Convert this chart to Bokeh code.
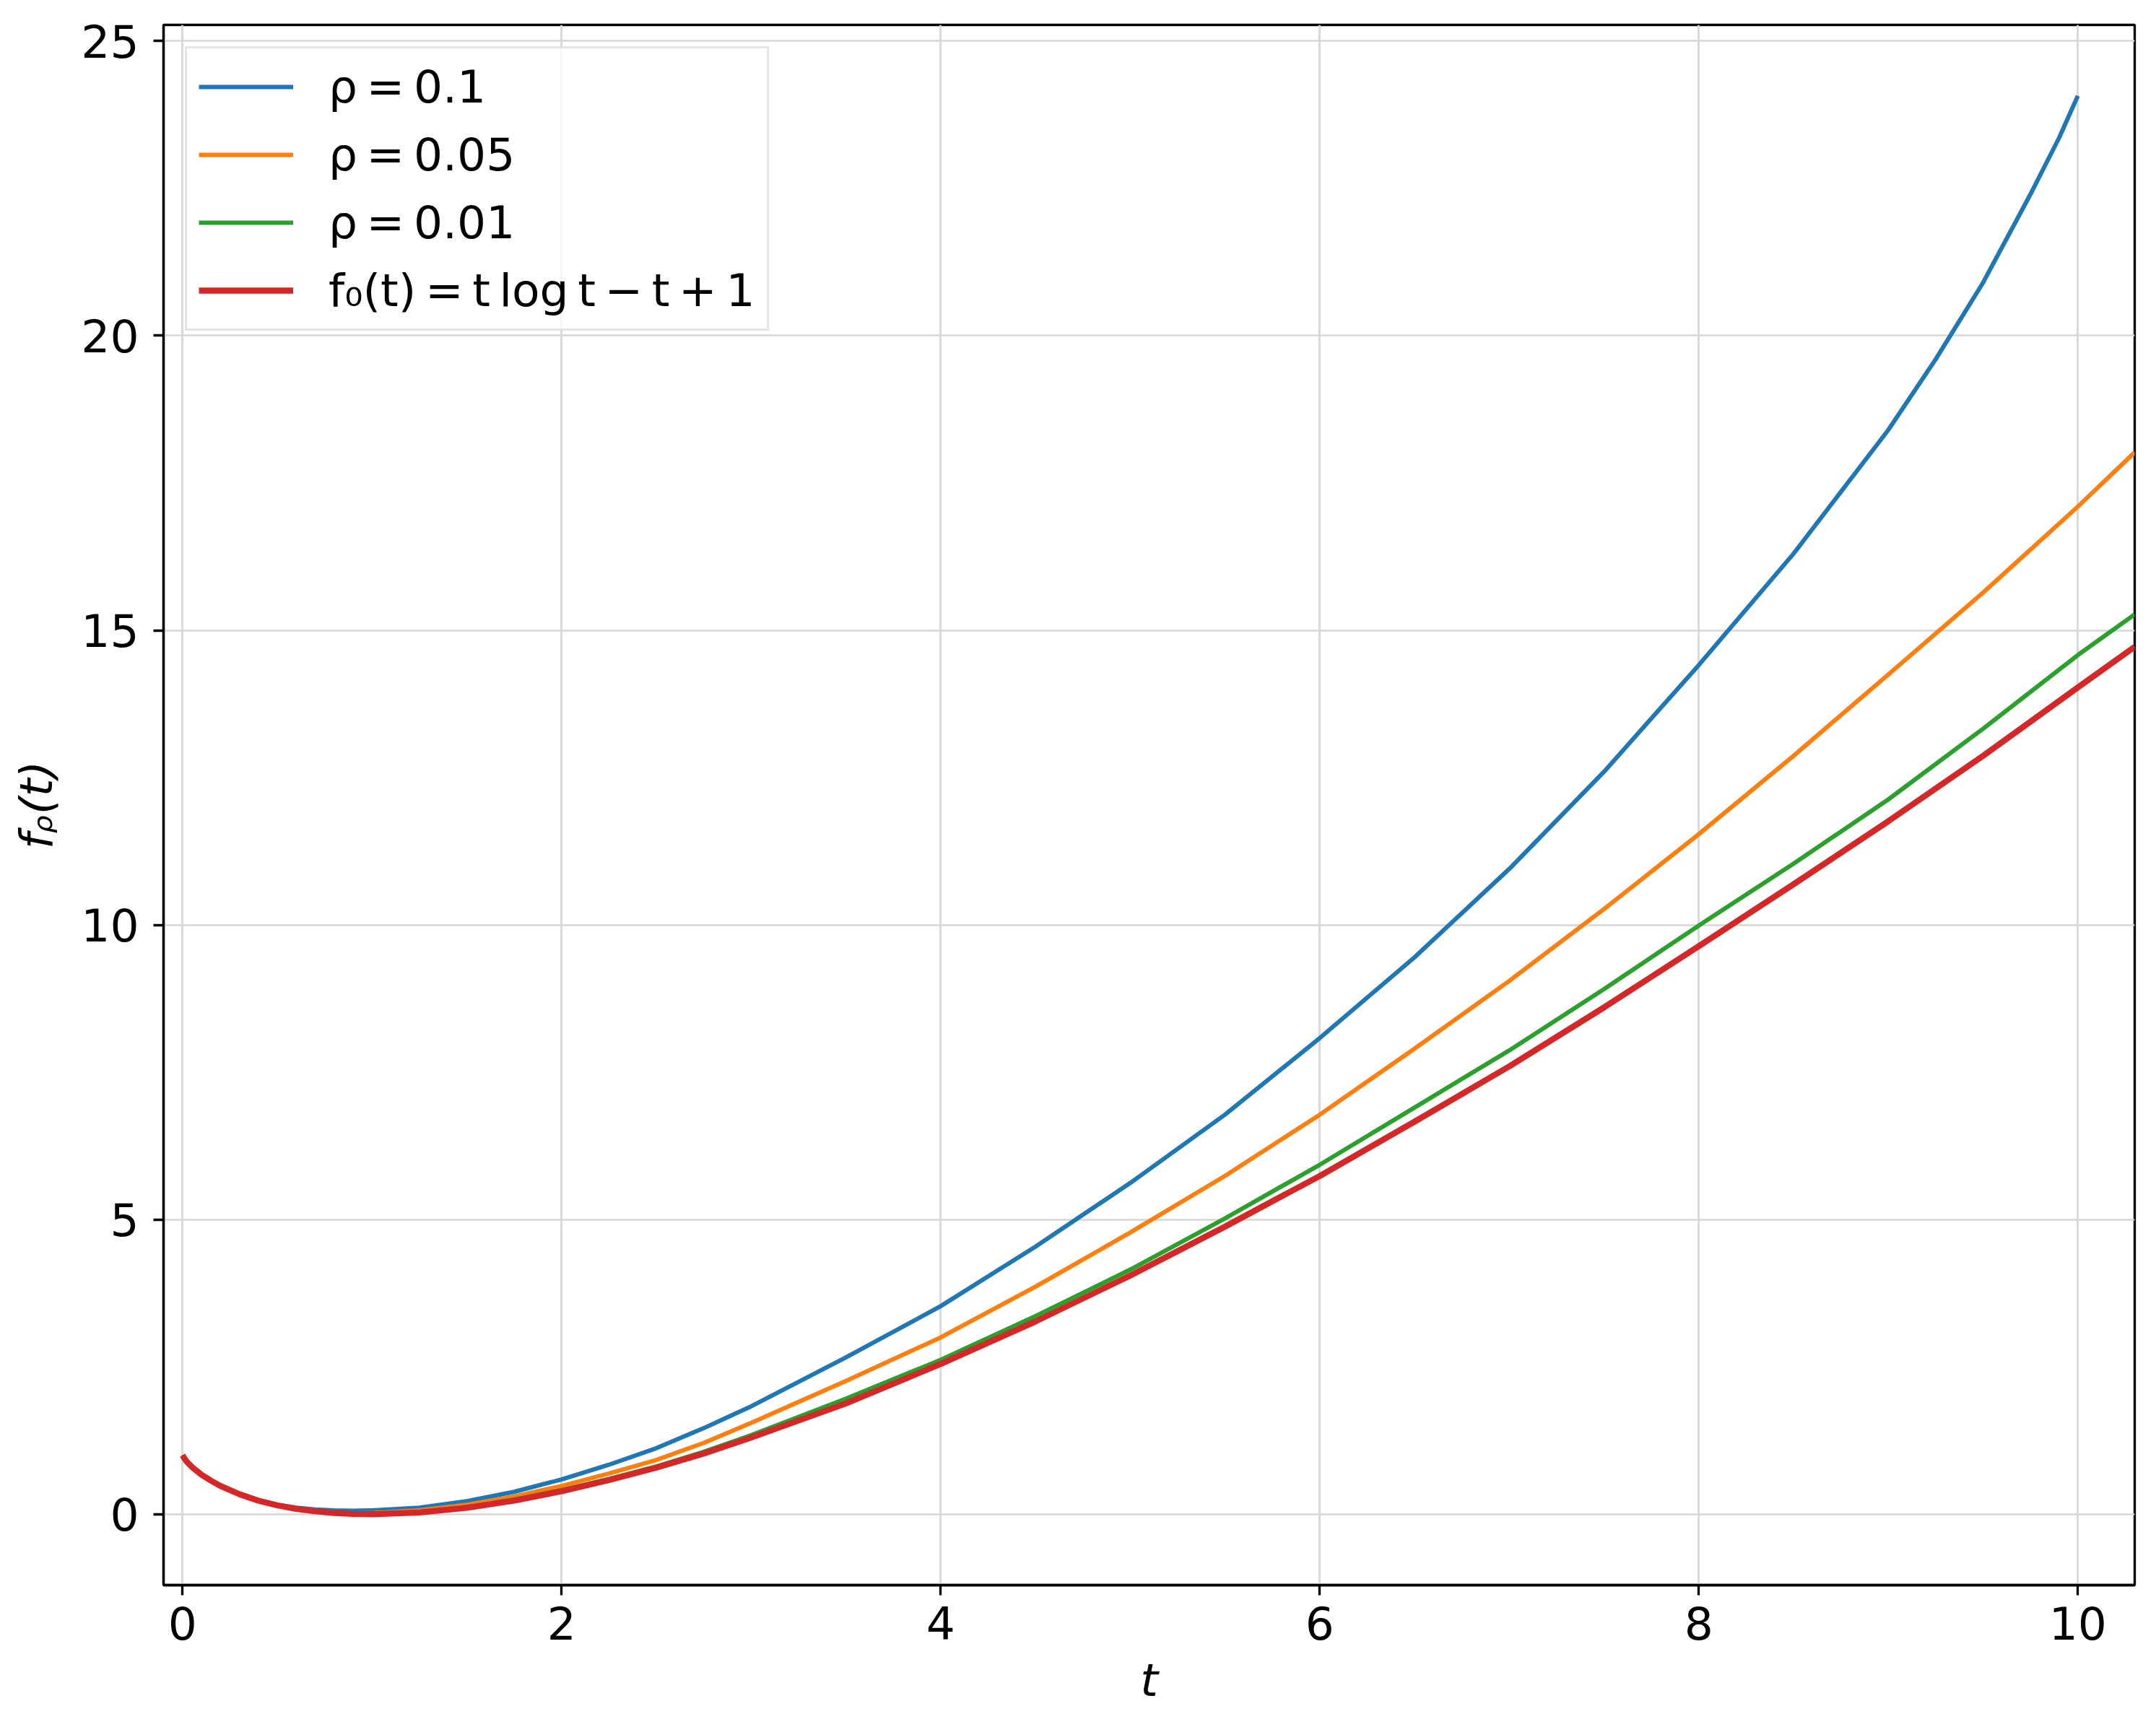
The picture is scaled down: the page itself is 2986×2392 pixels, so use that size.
from bokeh.plotting import figure
from bokeh.models import Range1d, FixedTicker, Legend, LegendItem
from bokeh.embed import file_html
from bokeh.resources import INLINE

# ---- data ----
t_common = [0, 0.02, 0.05, 0.1, 0.15, 0.2, 0.3, 0.4, 0.5, 0.6, 0.7, 0.8, 0.9, 1.0,
            1.25, 1.5, 1.75, 2.0, 2.25, 2.5, 2.75, 3.0, 3.5, 4.0, 4.5, 5.0, 5.5,
            6.0, 6.5, 7.0, 7.5, 8.0, 8.5, 9.0, 9.5, 10.0, 10.3]

t_rho_01 = [0, 0.02, 0.05, 0.1, 0.15, 0.2, 0.3, 0.4, 0.5, 0.6, 0.7, 0.8, 0.9, 1.0,
            1.25, 1.5, 1.75, 2.0, 2.25, 2.5, 2.75, 3.0, 3.5, 4.0, 4.5, 5.0, 5.5,
            6.0, 6.5, 7.0, 7.5, 8.0, 8.5, 9.0, 9.25, 9.5, 9.75, 9.9, 10.0]
f_rho_01 = [1.0, 0.90, 0.80, 0.67, 0.57, 0.48, 0.34, 0.24, 0.16, 0.11, 0.08, 0.065, 0.06, 0.065,
            0.11, 0.22, 0.38, 0.59, 0.84, 1.12, 1.46, 1.83, 2.66, 3.53, 4.54, 5.62, 6.78,
            8.08, 9.45, 10.95, 12.6, 14.41, 16.3, 18.4, 19.6, 20.9, 22.4, 23.35, 24.07]

f_rho_005 = [1.0, 0.90, 0.80, 0.67, 0.57, 0.48, 0.34, 0.23, 0.15, 0.09, 0.05, 0.02, 0.01, 0.02,
             0.065, 0.16, 0.30, 0.48, 0.69, 0.92, 1.21, 1.55, 2.26, 3.0, 3.86, 4.78, 5.74,
             6.78, 7.9, 9.05, 10.27, 11.54, 12.87, 14.25, 15.64, 17.1, 18.02]

f_rho_001 = [1.0, 0.90, 0.80, 0.67, 0.57, 0.48, 0.34, 0.23, 0.15, 0.09, 0.05, 0.02, 0.005, 0.005,
             0.04, 0.12, 0.25, 0.41, 0.60, 0.81, 1.06, 1.34, 1.96, 2.62, 3.36, 4.15, 5.02,
             5.93, 6.90, 7.87, 8.91, 9.99, 11.04, 12.13, 13.33, 14.58, 15.27]

f_zero = [1.0, 0.90, 0.80, 0.67, 0.57, 0.48, 0.34, 0.23, 0.15, 0.09, 0.05, 0.02, 0.005, 0.0,
          0.03, 0.11, 0.23, 0.39, 0.58, 0.79, 1.03, 1.30, 1.88, 2.55, 3.27, 4.05, 4.88,
          5.74, 6.66, 7.60, 8.60, 9.64, 10.69, 11.76, 12.87, 14.03, 14.72]

x_ticks = [0, 2, 4, 6, 8, 10]
y_ticks = [0, 5, 10, 15, 20, 25]

TS = "\u2009"  # thin space, close to math spacing
labels = [f"ρ{TS}={TS}0.1", f"ρ{TS}={TS}0.05", f"ρ{TS}={TS}0.01",
          f"f₀(t){TS}={TS}t{TS}log{TS}t{TS}−{TS}t{TS}+{TS}1"]
colors = ["#1f77b4", "#ff7f0e", "#2ca02c", "#d62728"]

FONT = "DejaVu Sans"
FS = "63px"

p = figure(width=2970, height=2376, output_backend="svg", toolbar_location=None,
           x_range=Range1d(-0.1, 10.3), y_range=Range1d(-1.2035, 25.2735),
           min_border_left=226, min_border_right=14, min_border_top=34,
           min_border_bottom=181)
p.background_fill_color = "white"
p.border_fill_color = "white"
p.outline_line_color = "black"
p.outline_line_width = 3.3

r1 = p.line(t_rho_01, f_rho_01, line_color=colors[0], line_width=6)
r2 = p.line(t_common, f_rho_005, line_color=colors[1], line_width=6)
r3 = p.line(t_common, f_rho_001, line_color=colors[2], line_width=6)
r4 = p.line(t_common, f_zero, line_color=colors[3], line_width=8.3)

p.xaxis.ticker = FixedTicker(ticks=x_ticks)
p.yaxis.ticker = FixedTicker(ticks=y_ticks)

for ax in (p.xaxis[0], p.yaxis[0]):
    ax.axis_line_width = 3.3
    ax.axis_line_color = "black"
    ax.major_tick_line_width = 3.3
    ax.major_tick_line_color = "black"
    ax.major_tick_out = 14
    ax.major_tick_in = 0
    ax.minor_tick_line_color = None
    ax.major_label_text_font = FONT
    ax.major_label_text_font_size = FS
    ax.major_label_text_color = "black"
    ax.axis_label_text_font = FONT
    ax.axis_label_text_font_size = FS
    ax.axis_label_text_font_style = "italic"
    ax.axis_label_text_color = "black"

p.xaxis.axis_label = "t"
p.yaxis.axis_label = "fᵨ(t)"
p.xaxis.major_label_standoff = 15
p.yaxis.major_label_standoff = 20
p.xaxis.axis_label_standoff = 17
p.yaxis.axis_label_standoff = 22

p.grid.grid_line_color = "#d6d6d6"
p.grid.grid_line_width = 2.7

legend = Legend(items=[
    LegendItem(label=labels[0], renderers=[r1]),
    LegendItem(label=labels[1], renderers=[r2]),
    LegendItem(label=labels[2], renderers=[r3]),
    LegendItem(label=labels[3], renderers=[r4]),
], location="top_left")
legend.margin = 30
legend.padding = 16
legend.spacing = 20
legend.glyph_width = 131
legend.glyph_height = 74
legend.label_height = 74
legend.label_standoff = 49
legend.label_text_font = FONT
legend.label_text_font_size = FS
legend.label_text_color = "black"
legend.border_line_color = "#cccccc"
legend.border_line_width = 3
legend.background_fill_color = "white"
legend.background_fill_alpha = 0.8
p.add_layout(legend)

open("out.html", "w").write(file_html(p, INLINE))
